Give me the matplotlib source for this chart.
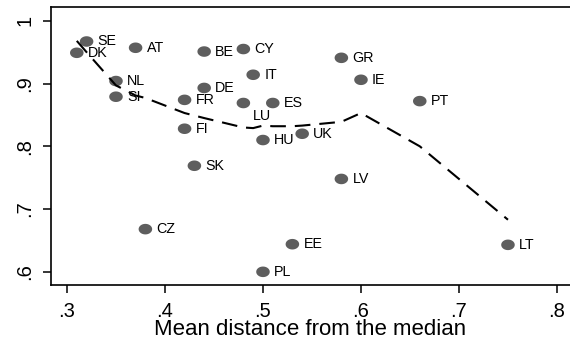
import matplotlib
matplotlib.use("Agg")
import matplotlib.pyplot as plt
import numpy as np
from matplotlib.path import Path

plt.rcParams['font.family'] = ['Liberation Sans', 'DejaVu Sans']

# country, mean distance from median, score
countries = ['DK', 'SE', 'NL', 'SI', 'AT', 'CZ', 'FR', 'FI', 'SK', 'BE', 'DE',
             'CY', 'LU', 'IT', 'HU', 'PL', 'ES', 'EE', 'UK', 'GR', 'LV', 'IE',
             'PT', 'LT']
dist = [0.31, 0.32, 0.35, 0.35, 0.37, 0.38, 0.42, 0.42, 0.43, 0.44, 0.44,
        0.48, 0.48, 0.49, 0.50, 0.50, 0.51, 0.53, 0.54, 0.58, 0.58, 0.60,
        0.66, 0.75]
score = [0.949, 0.967, 0.904, 0.879, 0.957, 0.668, 0.874, 0.828, 0.769, 0.951,
         0.893, 0.955, 0.869, 0.914, 0.810, 0.600, 0.869, 0.644, 0.820, 0.941,
         0.748, 0.906, 0.872, 0.643]

# lowess fit
fit_x = [0.31, 0.32, 0.35, 0.37, 0.38, 0.42, 0.43, 0.44, 0.48, 0.49, 0.50,
         0.51, 0.53, 0.54, 0.58, 0.60, 0.66, 0.75]
fit_y = [0.968, 0.950, 0.897, 0.881, 0.877, 0.853, 0.849, 0.845, 0.830, 0.829,
         0.833, 0.832, 0.832, 0.833, 0.839, 0.853, 0.800, 0.683]

xticks = [0.3, 0.4, 0.5, 0.6, 0.7, 0.8]
xticklabels = ['.3', '.4', '.5', '.6', '.7', '.8']
yticks = [0.6, 0.7, 0.8, 0.9, 1.0]
yticklabels = ['.6', '.7', '.8', '.9', '1']

# slightly flattened dot marker
t = np.linspace(0, 2 * np.pi, 60)
dot = Path(np.column_stack([np.cos(t), 0.78 * np.sin(t)]), closed=True)

fig = plt.figure(figsize=(5.7, 3.39), dpi=100)
ax = fig.add_axes([0.0895, 0.1593, 0.9105, 0.8201])

ax.scatter(dist, score, s=95, marker=dot, color='#5e5e5e', edgecolors='none', zorder=2)
ax.plot(fit_x, fit_y, color='black', lw=1.5, dashes=(7.5, 4.3), zorder=3)

for c, x, y in zip(countries, dist, score):
    if c == 'LU':
        ax.annotate(c, (x, y), xytext=(7, -9), textcoords='offset points',
                    ha='left', va='center', fontsize=10.3)
    else:
        ax.annotate(c, (x, y), xytext=(8, 0), textcoords='offset points',
                    ha='left', va='center', fontsize=10.3)

ax.set_xlim(0.2837, 0.8133)
ax.set_ylim(0.579, 1.022)
ax.set_xticks(xticks)
ax.set_xticklabels(xticklabels)
ax.set_yticks(yticks)
ax.set_yticklabels(yticklabels, rotation=90, va='center')
ax.tick_params(axis='both', length=6, width=1.1, labelsize=14.5)
ax.tick_params(axis='x', pad=6)
ax.tick_params(axis='y', pad=6)
ax.set_xlabel('Mean distance from the median', fontsize=16, labelpad=-1)

for side in ['top', 'left', 'bottom']:
    ax.spines[side].set_linewidth(1.2)
ax.spines['right'].set_visible(False)

fig.savefig('out.png', dpi=100)
